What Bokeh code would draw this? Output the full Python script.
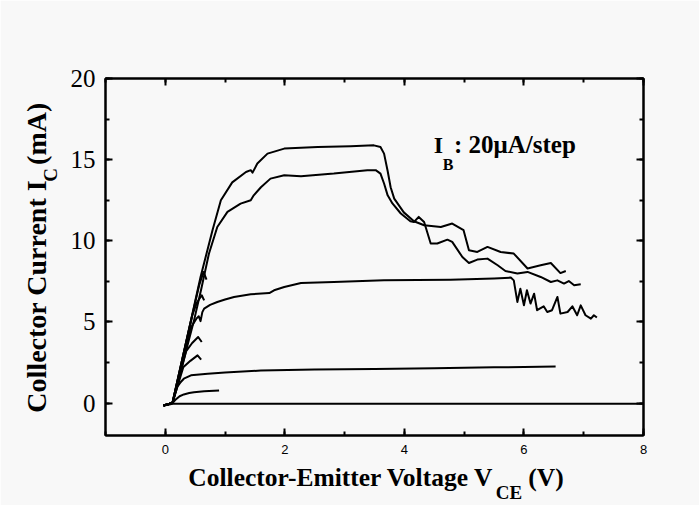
import math
from bokeh.plotting import figure
from bokeh.models import Range1d, LinearAxis, SingleIntervalTicker, FixedTicker, Label
from bokeh.embed import file_html
from bokeh.resources import INLINE

# ---------------- data ----------------
x_ticks_interval = 2
y_ticks_interval = 5

ib0_v = [-0.03, 0.05, 0.12, 8.0]
ib0_i = [-0.15, -0.10, -0.04, -0.04]

ib1_v = [-0.03, 0.12, 0.17, 0.24, 0.31, 0.40, 0.48, 0.65, 0.90]
ib1_i = [-0.15, 0.0, 0.20, 0.42, 0.53, 0.62, 0.67, 0.72, 0.78]

ib2_v = [-0.03, 0.12, 0.16, 0.20, 0.26, 0.31, 0.43, 0.71, 1.0, 1.6, 2.5, 3.5, 4.5, 5.5, 6.53]
ib2_i = [-0.15, 0.0, 0.5, 0.99, 1.30, 1.50, 1.71, 1.81, 1.88, 2.0, 2.06, 2.10, 2.15, 2.20, 2.25]

hook1_v = [-0.03, 0.12, 0.30, 0.42, 0.54, 0.60]
hook1_i = [-0.15, 0.0, 2.2, 2.6, 2.94, 2.68]

hook2_v = [-0.03, 0.12, 0.35, 0.45, 0.55, 0.61]
hook2_i = [-0.15, 0.0, 3.2, 3.7, 4.07, 3.76]

hook3_v = [-0.03, 0.12, 0.45, 0.53, 0.61, 0.65]
hook3_i = [-0.15, 0.0, 5.4, 6.2, 6.64, 6.33]

hook4_v = [-0.03, 0.12, 0.50, 0.57, 0.64, 0.69]
hook4_i = [-0.15, 0.0, 6.2, 7.3, 8.08, 7.6]

ib3_v = [-0.03, 0.12, 0.42, 0.52, 0.56, 0.59, 0.62, 0.65, 0.75, 0.87, 1.0, 1.15, 1.43, 1.74,
         1.82, 1.99, 2.27, 2.82, 3.66, 4.77, 5.5, 5.78, 5.83, 5.89, 5.94, 6.0, 6.05, 6.11,
         6.17, 6.22, 6.33, 6.39, 6.47, 6.56, 6.61, 6.73, 6.81, 6.89, 6.95, 7.03, 7.12, 7.17, 7.22]
ib3_i = [-0.15, 0.0, 4.6, 5.2, 5.35, 5.05, 5.6, 5.82, 6.05, 6.23, 6.38, 6.54, 6.7, 6.78,
         6.95, 7.15, 7.4, 7.46, 7.56, 7.6, 7.68, 7.73, 7.56, 6.23, 7.05, 6.02, 6.95, 6.13,
         6.74, 5.72, 5.96, 5.61, 5.72, 6.54, 5.51, 5.61, 5.96, 5.41, 6.02, 5.41, 5.2, 5.41, 5.27]

ib4_v = [-0.03, 0.12, 0.48, 0.60, 0.73, 0.87, 1.04, 1.26, 1.43, 1.48, 1.60, 1.76, 1.99, 2.27,
         2.82, 3.38, 3.52, 3.60, 3.66, 3.72, 3.80, 3.94, 4.10, 4.16, 4.24, 4.33, 4.44, 4.55,
         4.72, 4.80, 4.97, 5.08, 5.22, 5.39, 5.56, 5.69, 5.89, 6.06, 6.28, 6.45, 6.56, 6.67,
         6.75, 6.84, 6.95]
ib4_i = [-0.15, 0.0, 5.08, 7.0, 9.2, 10.85, 11.78, 12.29, 12.5, 12.8, 13.3, 13.83, 14.04, 13.98,
         14.14, 14.35, 14.35, 14.14, 13.53, 12.8, 12.3, 11.68, 11.2, 11.16, 11.47, 11.16, 9.83, 9.83,
         10.07, 9.93, 9.0, 8.63, 8.84, 8.9, 8.49, 8.14, 7.98, 8.08, 7.77, 7.46, 7.56, 7.36,
         7.52, 7.26, 7.32]

ib5_v = [-0.03, 0.12, 0.43, 0.59, 0.79, 0.93, 1.12, 1.35, 1.43, 1.46, 1.54, 1.71, 1.99, 2.55,
         3.10, 3.49, 3.60, 3.66, 3.72, 3.77, 3.83, 3.99, 4.16, 4.33, 4.61, 4.80, 4.99, 5.08,
         5.22, 5.39, 5.61, 5.83, 6.06, 6.28, 6.45, 6.61, 6.70]
ib5_i = [-0.15, 0.0, 5.1, 7.77, 10.65, 12.5, 13.6, 14.24, 14.35, 14.2, 14.76, 15.37, 15.68, 15.78,
         15.82, 15.88, 15.78, 15.37, 14.3, 13.3, 12.6, 11.75, 11.2, 10.96, 10.85, 11.06, 10.65, 9.41,
         9.31, 9.62, 9.31, 9.21, 8.29, 8.49, 8.63, 8.01, 8.14]

curves = [(ib0_v, ib0_i), (ib1_v, ib1_i), (ib2_v, ib2_i), (hook1_v, hook1_i),
          (hook2_v, hook2_i), (hook3_v, hook3_i), (hook4_v, hook4_i),
          (ib3_v, ib3_i), (ib4_v, ib4_i), (ib5_v, ib5_i)]

x_title_main = "Collector-Emitter Voltage V"
x_title_sub = "CE"
x_title_unit = "(V)"
y_title_main = "Collector Current I"
y_title_sub = "C"
y_title_unit = "(mA)"
note_main = "I"
note_sub = "B"
note_rest = ": 20\u03bcA/step"

BG = "#f8f8f8"
SERIF = "Liberation Serif"
SANS = "Liberation Sans"

p = figure(width=699, height=505, output_backend="svg", toolbar_location=None,
           x_range=Range1d(-1, 8), y_range=Range1d(-2, 20),
           x_axis_type=None, y_axis_type=None,
           min_border_left=105, min_border_right=56, min_border_top=78, min_border_bottom=70,
           background_fill_color=BG, border_fill_color=BG)
p.grid.visible = False
p.outline_line_color = "black"
p.outline_line_width = 2


def make_axis(interval, show_labels, font, size, standoff):
    ax = LinearAxis(ticker=SingleIntervalTicker(interval=interval, num_minor_ticks=2))
    ax.axis_line_width = 2
    ax.major_tick_line_width = 2
    ax.minor_tick_line_width = 2
    ax.major_tick_in = 7
    ax.major_tick_out = 0
    ax.minor_tick_in = 4
    ax.minor_tick_out = 0
    ax.major_label_text_font = font
    ax.major_label_text_font_size = size
    ax.major_label_standoff = standoff
    ax.major_label_text_color = "black" if show_labels else None
    return ax


def title_axis(ticks, texts, size, standoff, orientation="horizontal"):
    ax = LinearAxis(ticker=FixedTicker(ticks=ticks, minor_ticks=[]))
    ax.major_label_overrides = {t: s for t, s in zip(ticks, texts)}
    ax.axis_line_color = None
    ax.major_tick_line_color = None
    ax.minor_tick_line_color = None
    ax.major_tick_in = 0
    ax.major_tick_out = 0
    ax.minor_tick_in = 0
    ax.minor_tick_out = 0
    ax.major_label_text_font = SERIF
    ax.major_label_text_font_style = "bold"
    ax.major_label_text_font_size = size
    ax.major_label_text_color = "black"
    ax.major_label_standoff = standoff
    ax.major_label_orientation = orientation
    return ax


# frame axes
p.add_layout(make_axis(y_ticks_interval, True, SERIF, "25px", 10), "left")
p.add_layout(make_axis(y_ticks_interval, False, SERIF, "25px", 10), "right")
p.add_layout(make_axis(x_ticks_interval, True, SANS, "13px", 9), "below")
p.add_layout(make_axis(x_ticks_interval, False, SANS, "13px", 9), "above")

# x title: main part + unit, then the subscript just below
p.add_layout(title_axis([2.94, 6.37], [x_title_main, x_title_unit], "25.5px", 6), "below")
p.add_layout(title_axis([5.75], [x_title_sub], "19px", -13), "below")

# y title (rotated): subscript panel nearest the numbers, main text outside it
p.add_layout(title_axis([14.06], [y_title_sub], "19px", 6, "parallel"), "left")
p.add_layout(title_axis([6.58, 16.59], [y_title_main, y_title_unit], "28px", -15, "parallel"), "left")

for v, i in curves:
    p.line(v, i, line_color="black", line_width=2, line_join="round")


def lab(x, y, text, size):
    p.add_layout(Label(x=x, y=y, text=text, text_font=SERIF, text_font_style="bold",
                       text_font_size=size, text_color="black", text_align="left"))


# annotation inside the frame
lab(4.49, 15.09, note_main, "24px")
lab(4.64, 14.15, note_sub, "16px")
lab(4.83, 15.09, note_rest, "25px")

open("out.html", "w").write(file_html(p, INLINE))
